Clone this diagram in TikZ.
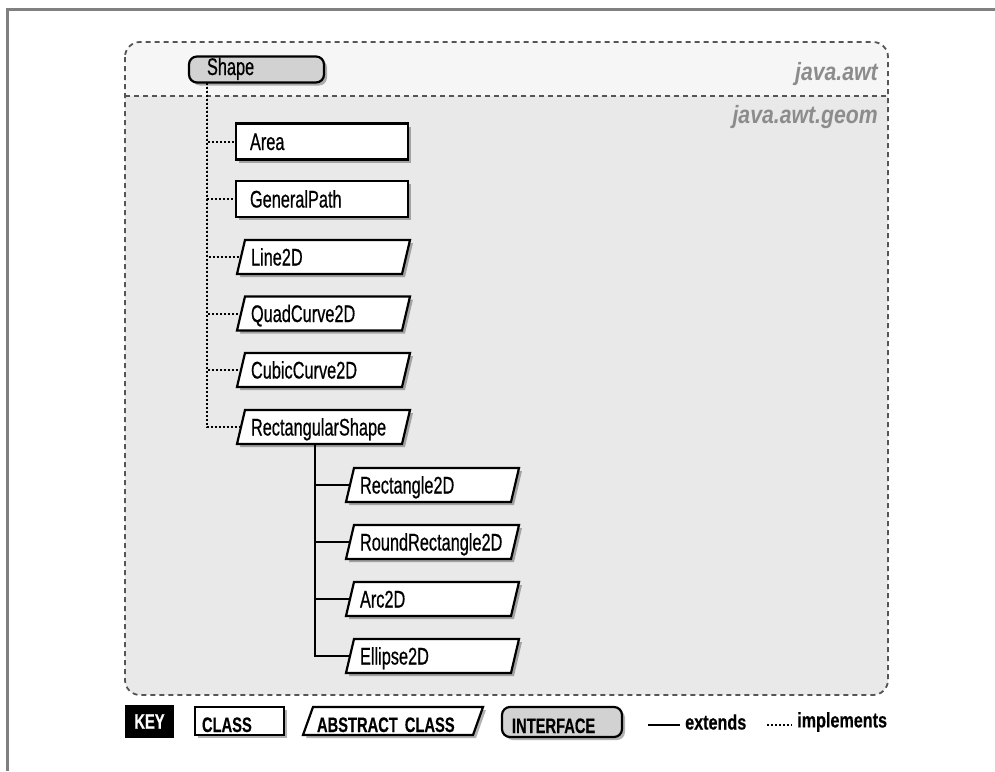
\documentclass[tikz,border=0pt]{standalone}
\usepackage{fontspec}
\newfontfamily\condfont[FakeStretch=0.68,FakeBold=0.6]{Liberation Sans}
\newfontfamily\keyfont[FakeStretch=0.7,FakeBold=0.4]{Liberation Sans Bold}
\newfontfamily\keylow[FakeStretch=0.77,FakeBold=0.4]{Liberation Sans Bold}
\newfontfamily\pkgfont[FakeStretch=0.85]{Liberation Sans Bold Italic}
\usetikzlibrary{shadows}
\definecolor{awtfill}{HTML}{F6F6F6}
\definecolor{geomfill}{HTML}{E9E9E9}
\definecolor{ifill}{HTML}{D2D2D2}
\definecolor{pkgtext}{HTML}{8C8C8C}
\definecolor{dashcol}{HTML}{555555}
\definecolor{framecol}{HTML}{808080}
\pgfdeclarelayer{pkg}
\pgfdeclarelayer{frames}
\pgfsetlayers{pkg,frames,main}
\tikzset{
  boxshadow/.style={drop shadow={shadow xshift=3pt, shadow yshift=-3pt, opacity=0.3, fill=black}},
  nodefont/.style={font=\condfont\fontsize{24}{27}\selectfont},
  keyfontst/.style={font=\keyfont\fontsize{21}{24}\selectfont},
  classbox/.style={nodefont, draw, line width=2.2pt, fill=white, boxshadow, minimum height=36pt,
    text width=144pt, inner xsep=14pt, inner ysep=0pt, align=left, text height=17pt, text depth=0pt, outer sep=0pt},
  abslabel/.style={nodefont, minimum height=34pt, text width=145pt, inner xsep=10pt, inner ysep=0pt,
    align=left, text height=17pt, text depth=0pt, outer sep=0pt},
  absframe/.style={draw, line width=2.2pt, fill=white, boxshadow},
  ifacebox/.style={nodefont, draw, line width=2.2pt, fill=ifill, rounded corners=8pt, boxshadow,
    minimum height=26pt, text width=99pt, inner xsep=18pt, inner ysep=0pt, align=left,
    text height=17pt, text depth=6pt, outer sep=0pt},
  implements/.style={line width=2pt, dash pattern=on 2pt off 2pt, black},
  extends/.style={line width=2.2pt, black},
  pkgdash/.style={line width=1.8pt, dash pattern=on 5pt off 4pt, dashcol},
  pkglabel/.style={font=\pkgfont\fontsize{25}{28}\selectfont, text=pkgtext, anchor=east, inner sep=0pt},
}
\newcommand\slantframe[2]{%
  \begin{pgfonlayer}{frames}
  \draw[absframe] ([xshift=-#2pt]#1.south west) -- ([xshift=#2pt]#1.north west)
     -- ([xshift=#2pt]#1.north east) -- ([xshift=-#2pt]#1.south east) -- cycle;
  \end{pgfonlayer}}
\begin{document}
\begin{tikzpicture}[x=1pt,y=-1pt]
\useasboundingbox (0,0) rectangle (995,771);
% page frame
\draw[framecol, line width=3pt] (7,771) -- (7,9) -- (995,9);
% packages
\begin{pgfonlayer}{pkg}
\begin{scope}
  \clip[rounded corners=15pt] (125,42) rectangle (888,695);
  \fill[awtfill] (125,42) rectangle (888,96);
  \fill[geomfill] (125,96) rectangle (888,695);
\end{scope}
\draw[pkgdash] (125,96) -- (888,96);
\draw[pkgdash, rounded corners=15pt] (125,42) rectangle (888,695);
\end{pgfonlayer}
\node[pkglabel] (awt) at (878,74) {java.awt};
\node[pkglabel] (geom) at (878,117) {java.awt.geom};

% interface
\node[ifacebox] (shape) at (256.5,69.5) {Shape};

% classes
\node[classbox] (area) at (322,141.5) {Area};
\node[classbox] (gpath) at (322,199) {GeneralPath};

% abstract classes, level 1
\node[abslabel] (line) at (323.5,257) {Line2D};
\node[abslabel] (quad) at (323.5,313.5) {QuadCurve2D};
\node[abslabel] (cubic) at (323.5,370) {CubicCurve2D};
\node[abslabel] (rshape) at (323.5,427) {RectangularShape};
\slantframe{line}{4}
\slantframe{quad}{4}
\slantframe{cubic}{4}
\slantframe{rshape}{4}

% abstract classes, level 2
\node[abslabel] (rect) at (432.5,485) {Rectangle2D};
\node[abslabel] (rrect) at (432.5,542) {RoundRectangle2D};
\node[abslabel] (arc) at (432.5,599) {Arc2D};
\node[abslabel] (ellipse) at (432.5,656) {Ellipse2D};
\slantframe{rect}{4}
\slantframe{rrect}{4}
\slantframe{arc}{4}
\slantframe{ellipse}{4}

% implements connectors
\foreach \n in {area,gpath,line,quad,cubic,rshape}
  \draw[implements] ([xshift=18pt]shape.south west) |- (\n.west);
% extends connectors
\foreach \n in {rect,rrect,arc,ellipse}
  \draw[extends] ([xshift=74pt]rshape.south west) |- (\n.west);

% key
\node[keyfontst, fill=black, text=white, minimum width=49pt, minimum height=33pt, inner sep=0pt] (key) at (149.5,721.5) {KEY};
\node[keyfontst, draw, line width=2.2pt, fill=white, boxshadow, minimum height=28pt, text width=75pt,
  inner xsep=7pt, inner ysep=0pt, align=left, text height=22pt, text depth=0pt, outer sep=0pt] (kclass) at (239.5,721) {CLASS};
\node[keyfontst, minimum height=28pt, text width=152pt, inner xsep=9pt, inner ysep=0pt, align=left,
  text height=22pt, text depth=0pt, outer sep=0pt] (kabs) at (393,721) {ABSTRACT CLASS};
\slantframe{kabs}{5}
\node[keyfontst, draw, line width=2.2pt, fill=ifill, rounded corners=8pt, boxshadow, minimum height=30pt,
  text width=100pt, inner xsep=10pt, inner ysep=0pt, align=left, text height=22pt, text depth=0pt, outer sep=0pt] (kiface) at (562,722) {INTERFACE};
\coordinate (ext1) at (648,725);
\coordinate (ext2) at (680,725);
\draw[extends, line width=2.6pt] (ext1) -- (ext2);
\node[font=\keylow\fontsize{21}{24}\selectfont, anchor=west, inner sep=0pt] (kext) at (685,722) {extends};
\coordinate (imp1) at (767,725);
\coordinate (imp2) at (792,725);
\draw[implements] (imp1) -- (imp2);
\node[font=\keylow\fontsize{21}{24}\selectfont, anchor=west, inner sep=0pt] (kimp) at (797,722) {implements};
\end{tikzpicture}
\end{document}
